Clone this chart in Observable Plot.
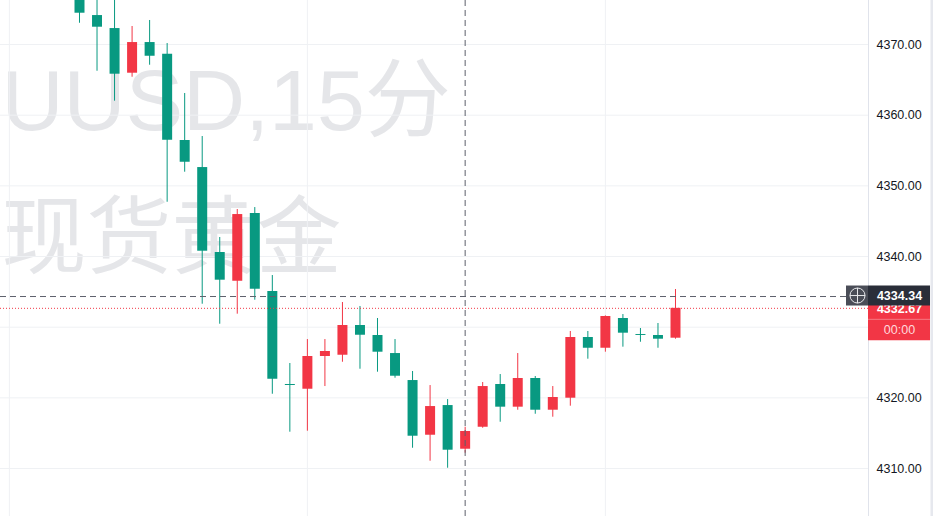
<!DOCTYPE html>
<html><head><meta charset="utf-8">
<script src="https://cdn.jsdelivr.net/npm/d3@7"></script>
<script src="https://cdn.jsdelivr.net/npm/@observablehq/plot@0.6"></script>
<style>
html,body{margin:0;padding:0;background:#fff;overflow:hidden}
#chart{position:relative;width:933px;height:516px}
</style></head><body><div id="chart"></div>
<script>
// Candle index (15-minute bars), left to right
const bars  = [0,1,2,3,4,5,6,7,8,9,10,11,12,13,14,15,16,17,18,19,20,21,22,23,24,25,26,27,28,29,30,31,32,33,34];
const open  = [4377.50,4374.10,4372.26,4365.94,4370.28,4368.63,4356.42,4352.59,4340.57,4336.50,4346.09,4335.05,4321.89,4321.22,4325.85,4326.03,4330.24,4328.82,4326.27,4322.45,4314.71,4318.91,4312.73,4315.84,4321.89,4318.68,4322.74,4318.25,4319.95,4328.54,4327.02,4331.23,4328.96,4328.82,4328.44];
const high  = [4378.50,4377.20,4377.00,4372.55,4373.40,4370.14,4363.07,4356.98,4342.69,4346.65,4346.93,4337.31,4324.86,4328.25,4328.25,4333.49,4332.93,4331.23,4328.25,4323.73,4321.74,4319.76,4315.84,4322.17,4323.30,4326.27,4323.02,4321.60,4329.39,4329.39,4331.60,4331.79,4329.81,4330.52,4335.33];
const low   = [4373.01,4366.22,4361.98,4365.37,4367.07,4347.68,4351.93,4333.25,4330.42,4331.84,4333.82,4320.51,4315.14,4315.28,4321.60,4325.04,4324.05,4323.63,4322.78,4312.87,4311.03,4310.04,4312.17,4315.70,4316.55,4318.25,4317.68,4317.26,4318.82,4325.47,4326.46,4327.17,4327.87,4327.02,4328.30];
const close = [4374.43,4372.45,4365.80,4370.28,4368.34,4356.46,4353.34,4340.75,4336.65,4345.94,4335.37,4322.64,4321.75,4325.85,4326.56,4330.24,4328.86,4326.46,4323.06,4314.57,4318.77,4312.59,4315.24,4321.60,4318.68,4322.74,4318.25,4320.05,4328.54,4327.02,4331.51,4329.15,4328.82,4328.30,4332.67];

const yTicks = [4310,4320,4330,4340,4350,4360,4370];
const yTickLabels = [4310,4320,4340,4350,4360,4370]; // 4330 hidden behind price label
const timeGrid = [-4,13,30];
const crossBar = 22;
const crossPrice = 4334.34;
const lastPrice = 4332.67;
const countdown = "00:00";
const watermark1 = "UUSD,15分";
const watermark2 = "现货黄金";

const UP = "#f23645", DOWN = "#089981";
const rows = bars.map((b, k) => ({i: b, open: open[k], high: high[k], low: low[k], close: close[k]}));
const col = d => d.close >= d.open ? UP : DOWN;

const xMin = -4.5067, xMax = 45.0101;
const step = 596 / 34;           // pixels per bar
const xLabelEnd = xMax + 62 / step;
const xBtnStart = xMax - 22 / step;
const fmt = d3.format(".2f");

const chart = Plot.plot({
  width: 933, height: 516,
  marginLeft: 0, marginRight: 65, marginTop: 0, marginBottom: 0,
  x: {domain: [xMin, xMax], axis: null},
  y: {domain: [4303.21, 4376.23], axis: null},
  style: {fontFamily: "'Liberation Sans', Arial, 'Noto Sans CJK SC', sans-serif", background: "white", overflow: "hidden"},
  marks: [
    Plot.text([watermark1], {frameAnchor: "top-left", text: d => d, dx: 1, dy: 68, fontSize: 86, fill: "#e5e6e9", textAnchor: "start", lineAnchor: "top"}),
    Plot.text([watermark2], {frameAnchor: "top-left", text: d => d, dx: 1, dy: 206, fontSize: 85, fill: "#e5e6e9", textAnchor: "start", lineAnchor: "top", fontFamily: "'Noto Sans CJK SC', sans-serif"}),
    Plot.gridX(timeGrid, {stroke: "#eff1f4", strokeOpacity: 1}),
    Plot.gridY(yTicks, {stroke: "#eff1f4", strokeOpacity: 1}),
    Plot.ruleX([xMax], {stroke: "#e0e3eb"}),
    Plot.ruleX(rows, {x: "i", y1: "low", y2: "high", stroke: col, strokeWidth: 1}),
    Plot.ruleX(rows, {x: "i", y1: "open", y2: "close", stroke: col, strokeWidth: 10}),
    Plot.ruleY([lastPrice], {x1: xMin, x2: xMax, stroke: UP, strokeDasharray: "1,2"}),
    Plot.ruleX([crossBar], {stroke: "#5d606b", strokeDasharray: "6,4"}),
    Plot.ruleY([crossPrice], {x1: xMin, x2: xMax, stroke: "#5d606b", strokeDasharray: "6,4"}),
    Plot.axisY({ticks: yTickLabels, anchor: "right", tickSize: 0, tickPadding: 8, tickFormat: fmt, fontSize: 12.5, fill: "#131722", label: null}),
    // last price label (red) with countdown
    Plot.ruleY([lastPrice], {x1: () => xMax, x2: () => xLabelEnd, stroke: UP, strokeWidth: 21, dy: 0.5}),
    Plot.ruleY([lastPrice], {x1: () => xMax, x2: () => xLabelEnd, stroke: UP, strokeWidth: 21, dy: 21.5}),
    Plot.ruleY([lastPrice], {x1: () => xMax, x2: () => xLabelEnd, stroke: "#f6707b", strokeWidth: 1, dy: 11}),
    Plot.text([lastPrice], {x: () => xMax, y: d => d, dx: 31, dy: 1, text: d => fmt(d), fill: "white", fontSize: 12.5, fontWeight: 600, textAnchor: "middle"}),
    Plot.text([lastPrice], {x: () => xMax, y: d => d, dx: 31, dy: 22, text: () => countdown, fill: "#ffd9dc", fontSize: 12.5, textAnchor: "middle"}),
    // crosshair price label + button
    Plot.ruleY([crossPrice], {x1: () => xBtnStart, x2: () => xMax, stroke: "#4a4d57", strokeWidth: 20, dy: -1}),
    Plot.dot([crossPrice], {x: () => xMax, y: d => d, dx: -11, dy: -1, r: 7.5, stroke: "#e6e7ea", fill: "none", strokeWidth: 1}),
    Plot.dot([crossPrice], {x: () => xMax, y: d => d, dx: -11, dy: -1, r: 5, symbol: "plus", stroke: "#e6e7ea", strokeWidth: 1}),
    Plot.ruleY([crossPrice], {x1: () => xMax, x2: () => xLabelEnd, stroke: "#2a2e39", strokeWidth: 20, dy: -1}),
    Plot.text([crossPrice], {x: () => xMax, y: d => d, dx: 31, dy: -1, text: d => fmt(d), fill: "white", fontSize: 12.5, fontWeight: 600, textAnchor: "middle"}),
    Plot.ruleX([xMax], {dx: 63.5, stroke: "#e6e8ee", strokeWidth: 3})
  ]
});
document.getElementById("chart").appendChild(chart);
</script></body></html>
